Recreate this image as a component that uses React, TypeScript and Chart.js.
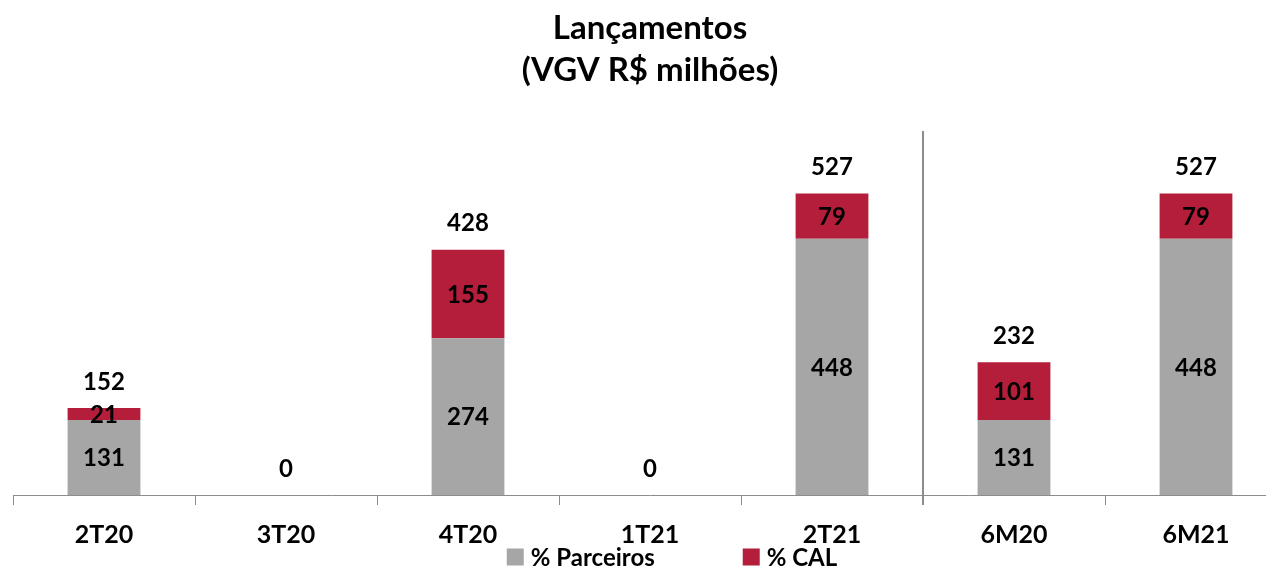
import React, { useEffect, useRef } from "react";
import { Chart, registerables } from "chart.js";

Chart.register(...registerables);

const categories = ["2T20", "3T20", "4T20", "1T21", "2T21", "6M20", "6M21"];
const parceiros = [131, 0, 274, 0, 448, 131, 448];
const cal = [21, 0, 155, 0, 79, 101, 79];
const totals = [152, 0, 428, 0, 527, 232, 527];
const titleLines = ["Lançamentos", "(VGV R$ milhões)"];
const seriesNames = ["% Parceiros", "% CAL"];
const separatorAfterIndex = 4;

const GRAY = "#A6A6A6";
const RED = "#B41E3B";
const FONT = "Lato, 'Open Sans', sans-serif";

const labelsPlugin = {
  id: "valueLabels",
  afterDatasetsDraw(chart: any) {
    const ctx = chart.ctx;
    ctx.save();
    ctx.fillStyle = "#000";
    ctx.textAlign = "center";
    ctx.textBaseline = "middle";
    ctx.font = `bold 24px ${FONT}`;
    const n = chart.data.labels.length;
    chart.data.datasets.forEach((ds: any, di: number) => {
      const meta = chart.getDatasetMeta(di);
      meta.data.forEach((el: any, i: number) => {
        const v = ds.data[i];
        if (v > 0) {
          const p = el.getProps(["x", "y", "base"], true);
          ctx.fillText(String(v), p.x, (p.y + p.base) / 2 + 1);
        }
      });
    });
    const last = chart.getDatasetMeta(chart.data.datasets.length - 1);
    for (let i = 0; i < n; i++) {
      let stackTop = 0;
      chart.data.datasets.forEach((ds: any) => (stackTop += ds.data[i]));
      const el = last.data[i];
      const p = el.getProps(["x"], true);
      const y = chart.scales.y.getPixelForValue(stackTop);
      ctx.fillText(String(totals[i]), p.x, y - 26);
    }
    ctx.restore();
  },
  afterDraw(chart: any) {
    const ctx = chart.ctx;
    const x = chart.scales.x;
    const area = chart.chartArea;
    const sx =
      (x.getPixelForValue(separatorAfterIndex) + x.getPixelForValue(separatorAfterIndex + 1)) / 2;
    ctx.save();
    ctx.strokeStyle = "#8C8C8C";
    ctx.lineWidth = 2;
    ctx.beginPath();
    ctx.moveTo(sx, 131);
    ctx.lineTo(sx, area.bottom + 10);
    ctx.stroke();
    // legend
    ctx.font = `bold 24px ${FONT}`;
    ctx.textBaseline = "middle";
    ctx.textAlign = "left";
    const box = 17;
    const gap = 7;
    const itemGap = 88;
    const widths = chart.data.datasets.map((ds: any) => box + gap + ctx.measureText(ds.label).width);
    const totalW = widths.reduce((a: number, b: number) => a + b, 0) + itemGap * (widths.length - 1);
    let lx = (area.left + area.right) / 2 + 22 - totalW / 2;
    const ly = 557;
    chart.data.datasets.forEach((ds: any, i: number) => {
      ctx.fillStyle = ds.backgroundColor;
      ctx.fillRect(lx, ly - box / 2, box, box);
      ctx.fillStyle = "#000";
      ctx.fillText(ds.label, lx + box + gap, ly + 1);
      lx += widths[i] + itemGap;
    });
    ctx.restore();
  },
};

export default function App() {
  const ref = useRef<HTMLCanvasElement>(null);
  useEffect(() => {
    if (!ref.current) return;
    const chart = new Chart(ref.current, {
      type: "bar",
      data: {
        labels: categories,
        datasets: [
          {
            label: seriesNames[0],
            data: parceiros,
            backgroundColor: GRAY,
            barPercentage: 0.4,
            categoryPercentage: 1,
          },
          {
            label: seriesNames[1],
            data: cal,
            backgroundColor: RED,
            barPercentage: 0.4,
            categoryPercentage: 1,
          },
        ],
      },
      options: {
        responsive: false,
        animation: false,
        devicePixelRatio: 1,
        layout: { padding: { left: 13, right: 13, top: 0, bottom: 3 } },
        plugins: {
          legend: { display: false },
          tooltip: { enabled: false },
          title: {
            display: true,
            text: titleLines,
            color: "#000",
            font: { family: FONT, size: 33, weight: "bold", lineHeight: 1.27 },
            padding: { top: 7, bottom: 61 },
          },
        },
        scales: {
          x: {
            stacked: true,
            grid: {
              offset: true,
              drawOnChartArea: false,
              drawTicks: true,
              tickLength: 10,
              color: "#8C8C8C",
            },
            border: { display: true, color: "#8C8C8C", width: 1 },
            ticks: {
              color: "#000",
              padding: 15,
              font: { family: FONT, size: 25, weight: "bold" },
            },
          },
          y: { stacked: true, display: false, min: 0, max: 600 },
        },
      },
      plugins: [labelsPlugin],
    });
    return () => chart.destroy();
  }, []);
  return (
    <div
      style={{
        position: "fixed",
        left: 0,
        top: 0,
        width: 1266,
        height: 568,
        overflow: "hidden",
        background: "#fff",
      }}
    >
      <canvas ref={ref} width={1300} height={568} style={{ display: "block" }} />
    </div>
  );
}
